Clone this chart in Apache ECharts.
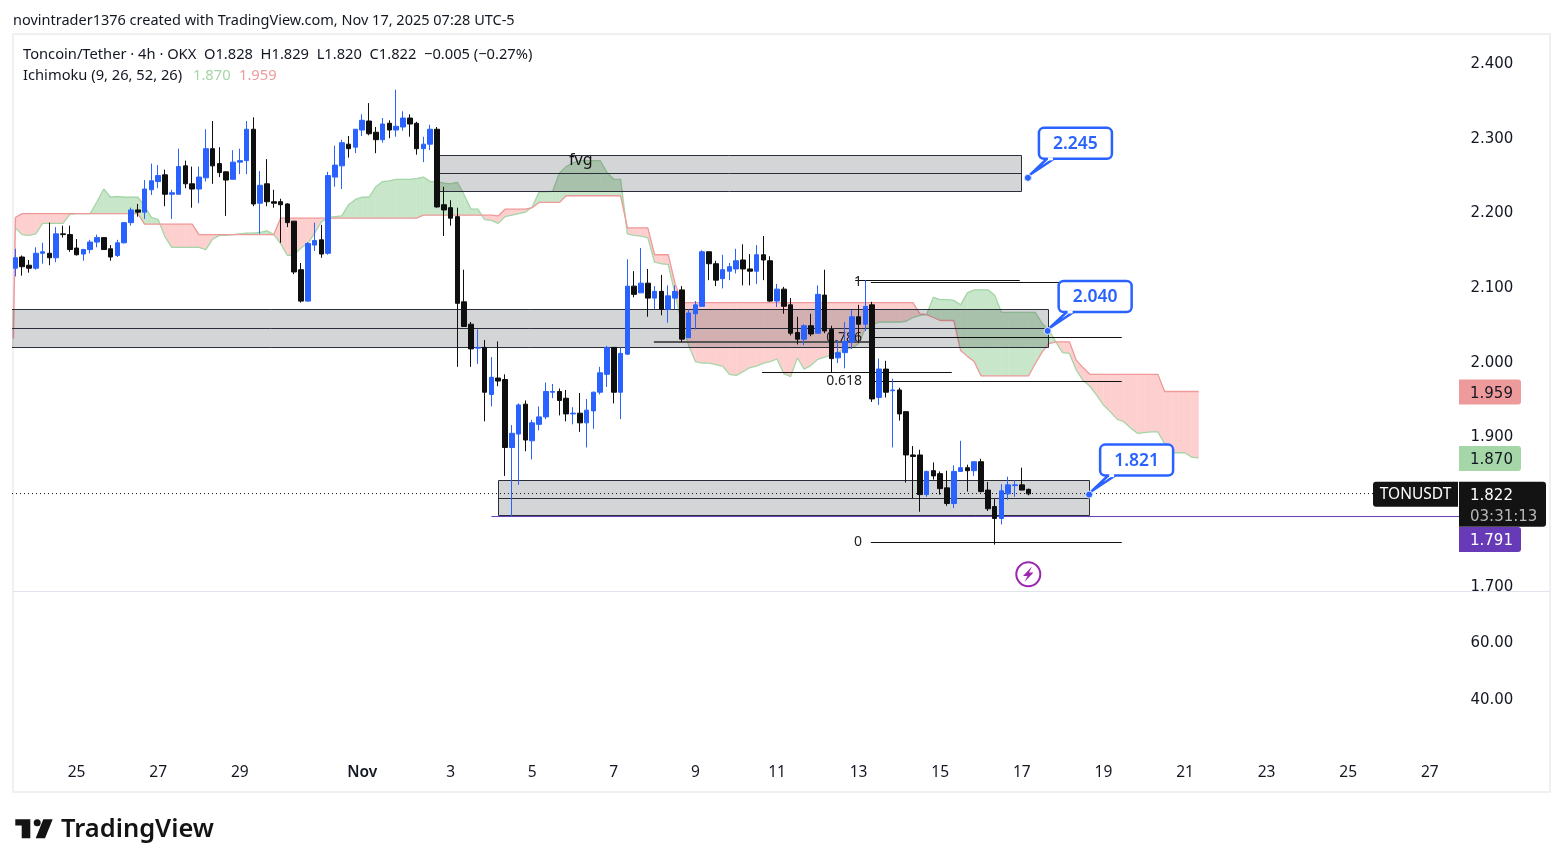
<!DOCTYPE html>
<html>
<head>
<meta charset="utf-8">
<title>TONUSDT 4h</title>
<style>
html, body { margin: 0; padding: 0; background: #fff; }
#main { width: 1563px; height: 867px; }
</style>
<script src="https://cdn.jsdelivr.net/npm/echarts@6/dist/echarts.min.js"></script>
</head>
<body>
<div id="main"></div>
<script>
// bars on the time axis that carry a date label
var barCount = 213;
var dateLabelBars = [9, 21, 33, 51, 64, 76, 88, 100, 112, 124, 136, 148, 160, 172, 184, 196, 208];
var dateLabels = ['25', '27', '29', 'Nov', '3', '5', '7', '9', '11', '13', '15', '17', '19', '21', '23', '25', '27'];
var priceTicks = [1.7, 1.9, 2.0, 2.1, 2.2, 2.3, 2.4];

// open, close, low, high
var candles = [
    [2.124,2.138,2.113,2.150],[2.139,2.126,2.114,2.141],[2.128,2.124,2.118,2.135],[2.124,2.144,2.122,2.152],[2.144,2.146,2.130,2.158],
    [2.144,2.138,2.128,2.185],[2.138,2.170,2.132,2.179],[2.170,2.169,2.165,2.181],[2.169,2.149,2.146,2.181],[2.151,2.142,2.141,2.163],
    [2.143,2.149,2.134,2.150],[2.149,2.159,2.144,2.162],[2.159,2.165,2.152,2.169],[2.165,2.149,2.149,2.165],[2.150,2.139,2.134,2.155],
    [2.141,2.158,2.139,2.162],[2.158,2.185,2.157,2.186],[2.185,2.202,2.181,2.205],[2.202,2.199,2.193,2.210],[2.199,2.230,2.190,2.242],
    [2.229,2.241,2.222,2.264],[2.240,2.248,2.231,2.262],[2.249,2.223,2.207,2.256],[2.223,2.225,2.190,2.229],[2.223,2.260,2.223,2.284],
    [2.261,2.237,2.231,2.268],[2.237,2.230,2.205,2.260],[2.230,2.246,2.211,2.260],[2.245,2.284,2.240,2.310],[2.284,2.261,2.237,2.321],
    [2.264,2.252,2.246,2.286],[2.253,2.242,2.194,2.254],[2.243,2.266,2.243,2.282],[2.266,2.268,2.250,2.284],[2.268,2.310,2.250,2.321],
    [2.310,2.210,2.207,2.326],[2.211,2.235,2.170,2.254],[2.237,2.213,2.207,2.270],[2.213,2.211,2.205,2.229],[2.213,2.209,2.158,2.217],
    [2.210,2.185,2.179,2.211],[2.187,2.119,2.116,2.187],[2.122,2.080,2.078,2.131],[2.080,2.157,2.079,2.159],[2.155,2.161,2.147,2.185],
    [2.162,2.143,2.138,2.182],[2.144,2.248,2.142,2.253],[2.246,2.262,2.233,2.288],[2.261,2.292,2.230,2.296],[2.290,2.284,2.272,2.301],
    [2.286,2.310,2.278,2.310],[2.309,2.322,2.301,2.330],[2.321,2.304,2.302,2.345],[2.306,2.296,2.278,2.313],[2.296,2.317,2.292,2.325],
    [2.318,2.309,2.298,2.322],[2.309,2.314,2.300,2.363],[2.313,2.325,2.308,2.334],[2.325,2.317,2.300,2.330],[2.318,2.284,2.276,2.320],
    [2.284,2.290,2.266,2.300],[2.290,2.310,2.282,2.316],[2.310,2.206,2.205,2.313],[2.209,2.202,2.167,2.233],[2.205,2.191,2.181,2.215],
    [2.193,2.077,1.992,2.205],[2.079,2.046,2.046,2.122],[2.049,2.016,1.992,2.052],[2.017,2.018,1.996,2.042],[2.018,1.958,1.919,2.028],
    [1.955,1.978,1.939,2.005],[1.977,1.973,1.966,2.026],[1.975,1.884,1.846,1.982],[1.884,1.903,1.792,1.914],[1.902,1.941,1.834,1.943],
    [1.942,1.894,1.879,1.947],[1.893,1.917,1.868,1.921],[1.915,1.925,1.907,1.939],[1.925,1.959,1.922,1.971],[1.958,1.959,1.950,1.969],
    [1.959,1.947,1.927,1.963],[1.950,1.929,1.919,1.961],[1.929,1.930,1.915,1.938],[1.930,1.917,1.905,1.957],[1.917,1.934,1.884,1.949],
    [1.933,1.958,1.909,1.959],[1.958,1.984,1.955,1.992],[1.982,2.018,1.965,2.020],[2.018,1.958,1.943,2.018],[1.958,2.010,1.922,2.018],
    [2.009,2.100,2.008,2.136],[2.100,2.089,2.085,2.120],[2.091,2.104,2.091,2.151],[2.104,2.084,2.059,2.123],[2.084,2.093,2.069,2.100],
    [2.093,2.069,2.061,2.115],[2.069,2.087,2.051,2.101],[2.084,2.093,2.069,2.101],[2.095,2.029,2.025,2.100],[2.031,2.064,2.031,2.069],
    [2.063,2.075,2.042,2.080],[2.073,2.146,2.073,2.148],[2.146,2.130,2.108,2.146],[2.130,2.108,2.100,2.134],[2.110,2.122,2.097,2.142],
    [2.120,2.126,2.108,2.131],[2.123,2.134,2.117,2.150],[2.135,2.123,2.101,2.156],[2.123,2.120,2.101,2.143],[2.120,2.142,2.103,2.155],
    [2.142,2.135,2.108,2.167],[2.134,2.080,2.079,2.140],[2.080,2.096,2.072,2.103],[2.096,2.073,2.063,2.099],[2.075,2.037,2.034,2.084],
    [2.038,2.029,2.022,2.059],[2.029,2.047,2.021,2.049],[2.047,2.036,2.033,2.063],[2.037,2.089,2.037,2.101],[2.088,2.040,2.037,2.122],
    [2.042,2.003,1.985,2.047],[2.004,2.011,1.997,2.028],[2.011,2.026,1.990,2.052],[2.025,2.059,2.016,2.068],[2.059,2.049,2.024,2.075],
    [2.049,2.073,2.040,2.108],[2.075,1.949,1.945,2.079],[1.951,1.989,1.941,2.003],[1.989,1.958,1.951,2.000],[1.960,1.961,1.884,1.976],
    [1.961,1.929,1.920,1.964],[1.932,1.874,1.837,1.932],[1.874,1.872,1.816,1.886],[1.874,1.821,1.798,1.881],[1.821,1.852,1.818,1.853],
    [1.853,1.846,1.841,1.864],[1.849,1.829,1.821,1.852],[1.830,1.809,1.806,1.853],[1.809,1.852,1.803,1.860],[1.852,1.857,1.852,1.893],
    [1.857,1.853,1.825,1.861],[1.853,1.865,1.846,1.865],[1.865,1.825,1.824,1.869],[1.827,1.802,1.799,1.838],[1.805,1.789,1.754,1.815],
    [1.789,1.826,1.781,1.835],[1.822,1.834,1.814,1.845],[1.833,1.834,1.818,1.840],[1.834,1.827,1.827,1.857],[1.828,1.822,1.820,1.829]
];

// ichimoku leading spans, one value per bar
var spanA = [
    2.178,2.169,2.168,2.170,2.184,2.184,2.184,2.184,2.196,2.197,
    2.197,2.197,2.213,2.230,2.219,2.220,2.219,2.219,2.219,2.207,
    2.192,2.189,2.166,2.152,2.152,2.152,2.152,2.152,2.149,2.163,
    2.168,2.168,2.169,2.170,2.171,2.171,2.172,2.174,2.169,2.157,
    2.141,2.142,2.151,2.157,2.171,2.186,2.192,2.193,2.194,2.209,
    2.216,2.219,2.219,2.233,2.240,2.241,2.243,2.243,2.243,2.244,
    2.246,2.240,2.240,2.238,2.237,2.239,2.222,2.203,2.203,2.189,
    2.188,2.184,2.193,2.195,2.197,2.199,2.206,2.226,2.226,2.227,
    2.251,2.260,2.265,2.268,2.268,2.268,2.268,2.252,2.243,2.243,
    2.170,2.168,2.167,2.165,2.132,2.130,2.129,2.090,2.050,2.021,
    1.999,1.997,1.997,1.995,1.993,1.982,1.9805,1.9855,1.991,1.993,
    1.997,1.999,2.0025,1.983,1.979,2.004,1.989,1.994,2.002,2.005,
    2.008,2.012,2.015,2.017,2.023,2.0435,2.048,2.052,2.052,2.052,
    2.052,2.053,2.058,2.061,2.062,2.085,2.082,2.082,2.081,2.075,
    2.091,2.095,2.095,2.095,2.088,2.065,2.065,2.065,2.065,2.065,
    2.065,2.050,2.041,2.0255,2.011,2.010,1.988,1.974,1.966,1.954,
    1.941,1.932,1.922,1.9185,1.910,1.903,1.904,1.905,1.905,1.8895,
    1.877,1.877,1.877,1.871,1.870
];
var spanB = [
    2.192,2.197,2.197,2.197,2.197,2.197,2.197,2.197,2.197,2.197,
    2.197,2.197,2.197,2.197,2.197,2.197,2.197,2.197,2.197,2.183,
    2.183,2.183,2.183,2.183,2.183,2.183,2.183,2.169,2.169,2.169,
    2.169,2.169,2.169,2.169,2.169,2.169,2.169,2.169,2.169,2.191,
    2.191,2.191,2.191,2.191,2.191,2.191,2.191,2.191,2.191,2.191,
    2.191,2.191,2.191,2.191,2.191,2.191,2.191,2.191,2.191,2.191,
    2.195,2.195,2.195,2.195,2.195,2.195,2.195,2.195,2.195,2.195,
    2.195,2.194,2.203,2.203,2.203,2.203,2.205,2.212,2.212,2.212,
    2.212,2.221,2.221,2.221,2.221,2.221,2.221,2.221,2.221,2.221,
    2.178,2.178,2.178,2.178,2.142,2.142,2.142,2.104,2.078,2.078,
    2.078,2.078,2.078,2.078,2.078,2.078,2.078,2.078,2.078,2.078,
    2.078,2.078,2.078,2.078,2.078,2.078,2.078,2.078,2.078,2.078,
    2.078,2.078,2.078,2.078,2.078,2.078,2.078,2.078,2.078,2.078,
    2.078,2.078,2.078,2.063,2.062,2.058,2.054,2.054,2.054,2.014,
    2.006,1.999,1.980,1.980,1.980,1.980,1.980,1.980,1.980,1.980,
    1.9965,2.012,2.023,2.0255,2.0255,2.0255,2.001,1.991,1.982,1.982,
    1.982,1.982,1.982,1.982,1.982,1.982,1.982,1.982,1.982,1.959,
    1.959,1.959,1.959,1.959,1.959
];
var cloudEdge = [[-0.3, 2.03], [0, 2.192]];

// drawings in bar / price units: left, right, top, middle, bottom
var boxes = [
    [62.1, 147.9, 2.2755, 2.2514, 2.2273],
    [-1, 151.9, 2.0689, 2.0437, 2.0181],
    [71, 157.9, 1.840, 1.816, 1.7926]
];
// left, right, price
var fibLines = [
    [125.8, 162.7, 2.1051],
    [123.5, 147.7, 2.1072],
    [125.8, 162.7, 2.0315],
    [125.8, 162.7, 1.9726],
    [109.8, 137.7, 1.9846],
    [125.8, 162.7, 1.7568]
];
var guideLine = [[93.9, 2.0252], [125.8, 2.0252]];
var fibBars = [124.5, 124.5, 124.5, 124.5];
var fibPrices = [2.106, 2.030, 1.973, 1.757];
var fibTexts = ['1', '0.786', '0.618', '0'];

var calloutBars = [148.9, 151.8, 157.9];
var calloutPrices = [2.245, 2.040, 1.821];
var calloutTexts = ['2.245', '2.040', '1.821'];

var lastPrice = 1.822;
var purplePrice = 1.7916;
var purpleLine = [[70, purplePrice], [212.5, purplePrice]];
var lastLine = [[-0.5, 1.8224], [200.5, 1.8224]];

var tagPrices = [1.959, 1.870, 1.791];
var tagTexts = ['1.959', '1.870', '1.791'];
var tagFills = ['#ef9a9a', '#a5d6a7', '#673ab7'];
var tagInks = ['#131722', '#131722', '#ffffff'];
var tagShifts = [0, 0, 22];

var FONT = '"Noto Sans", sans-serif';
var TICK_FONT = '"DejaVu Sans", sans-serif';
var BLUE = '#2962ff';
var INK = '#131722';

var categories = [];
for (var i = 0; i < barCount; i++) {
    categories.push(String(i));
}
var dateMap = {};
dateLabelBars.forEach(function (bar, idx) {
    dateMap[bar] = dateLabels[idx];
});

function pairs(values) {
    return values.map(function (v, idx) {
        return [idx, v];
    });
}

// crisp 1px strokes
function snap(v) {
    return Math.floor(v) + 0.5;
}

function renderCloud(params, api) {
    var n = params.dataIndex;
    if (n >= spanA.length - 1) {
        return null;
    }
    var a0 = spanA[n], a1 = spanA[n + 1], b0 = spanB[n], b1 = spanB[n + 1];
    var green = '#c8e6c9', pink = '#fdd0cf';
    function poly(x0, ya0, yb0, x1, ya1, yb1, fill) {
        var pts = [api.coord([x0, ya0]), api.coord([x1, ya1]), api.coord([x1, yb1]), api.coord([x0, yb0])];
        return {
            type: 'polygon',
            shape: { points: pts },
            style: { fill: fill, stroke: fill, lineWidth: 0.5 }
        };
    }
    var d0 = a0 - b0, d1 = a1 - b1;
    if (d0 * d1 >= 0) {
        return poly(n, a0, b0, n + 1, a1, b1, (d0 + d1) >= 0 ? green : pink);
    }
    // the spans cross inside this bar
    var t = d0 / (d0 - d1);
    var xc = n + t, yc = a0 + (a1 - a0) * t;
    return {
        type: 'group',
        children: [
            poly(n, a0, b0, xc, yc, yc, d0 > 0 ? green : pink),
            poly(xc, yc, yc, n + 1, a1, b1, d1 > 0 ? green : pink)
        ]
    };
}

function renderBox(params, api) {
    var b = boxes[params.dataIndex];
    var tl = api.coord([b[0], b[2]]);
    var br = api.coord([b[1], b[4]]);
    var mid = api.coord([b[0], b[3]]);
    var x0 = snap(tl[0]), y0 = snap(tl[1]), x1 = snap(br[0]), y1 = snap(br[1]), ym = snap(mid[1]);
    return {
        type: 'group',
        children: [
            {
                type: 'rect',
                shape: { x: x0, y: y0, width: x1 - x0, height: y1 - y0 },
                style: { fill: 'rgba(42,46,57,0.2)', stroke: '#2a2e39', lineWidth: 1 }
            },
            {
                type: 'line',
                shape: { x1: x0, y1: ym, x2: x1, y2: ym },
                style: { stroke: '#2a2e39', lineWidth: 1 }
            }
        ]
    };
}

function renderFib(params, api) {
    var f = fibLines[params.dataIndex];
    var p0 = api.coord([f[0], f[2]]);
    var p1 = api.coord([f[1], f[2]]);
    return {
        type: 'line',
        shape: { x1: p0[0], y1: snap(p0[1]), x2: p1[0], y2: snap(p1[1]) },
        style: { stroke: '#111111', lineWidth: 1 }
    };
}

function renderFibText(params, api) {
    var n = params.dataIndex;
    var p = api.coord([fibBars[n], fibPrices[n]]);
    return {
        type: 'text',
        style: { text: fibTexts[n], x: p[0], y: p[1], align: 'right', verticalAlign: 'middle', fill: '#222222', font: '14px ' + FONT }
    };
}

function renderCallout(params, api) {
    var n = params.dataIndex;
    var p = api.coord([calloutBars[n], calloutPrices[n]]);
    var left = p[0] + 11, top = p[1] - 50;
    var w = 73, h = 31;
    return {
        type: 'group',
        children: [
            {
                type: 'polygon',
                shape: { points: [[p[0] + 2, p[1] - 3], [left + 8, top + h], [left + 15, top + h]] },
                style: { fill: '#fff', stroke: BLUE, lineWidth: 2.5 }
            },
            {
                type: 'rect',
                shape: { x: left, y: top, width: w, height: h, r: 5 },
                style: { fill: '#fff', stroke: BLUE, lineWidth: 2.5 }
            },
            {
                type: 'line',
                shape: { x1: left + 9, y1: top + h, x2: left + 14, y2: top + h },
                style: { stroke: '#fff', lineWidth: 3 }
            },
            {
                type: 'circle',
                shape: { cx: p[0], cy: p[1], r: 3.5 },
                style: { fill: BLUE, stroke: '#dfe8ff', lineWidth: 1 }
            },
            {
                type: 'text',
                style: { text: calloutTexts[n], x: left + w / 2, y: top + h / 2 + 0.5, align: 'center', verticalAlign: 'middle', fill: BLUE, font: '600 17.5px ' + FONT }
            }
        ]
    };
}

function renderTag(params, api) {
    var n = params.dataIndex;
    var p = api.coord([0, tagPrices[n]]);
    var x = 1459, y = p[1] + tagShifts[n] - 12;
    return {
        type: 'group',
        children: [
            {
                type: 'rect',
                shape: { x: x, y: y, width: 62, height: 25, r: [0, 3, 3, 0] },
                style: { fill: tagFills[n] }
            },
            {
                type: 'text',
                style: { text: tagTexts[n], x: x + 11, y: y + 14.5, verticalAlign: 'middle', fill: tagInks[n], font: '15px ' + TICK_FONT }
            }
        ]
    };
}

function renderLastTag(params, api) {
    var p = api.coord([0, lastPrice]);
    var x = 1459, y = p[1] - 12;
    return {
        type: 'group',
        children: [
            {
                type: 'rect',
                shape: { x: 1373, y: y, width: 85, height: 25, r: [3, 0, 0, 3] },
                style: { fill: '#131313' }
            },
            {
                type: 'text',
                style: { text: 'TONUSDT', x: 1415.5, y: y + 13, align: 'center', verticalAlign: 'middle', fill: '#ffffff', font: '15.5px ' + FONT }
            },
            {
                type: 'rect',
                shape: { x: x, y: y, width: 87, height: 45, r: [0, 3, 3, 0] },
                style: { fill: '#131313' }
            },
            {
                type: 'text',
                style: { text: '1.822', x: x + 11, y: y + 14.5, verticalAlign: 'middle', fill: '#ffffff', font: '15px ' + TICK_FONT }
            },
            {
                type: 'text',
                style: { text: '03:31:13', x: x + 11, y: y + 35, verticalAlign: 'middle', fill: '#b8b8b8', font: '15px ' + TICK_FONT }
            }
        ]
    };
}

function textNode(text, x, y, fill, font) {
    return {
        type: 'text',
        silent: true,
        z: 5,
        x: x,
        y: y,
        style: { text: text, fill: fill, font: font, verticalAlign: 'middle' }
    };
}

var tickRich = { t: { padding: [4, 0, 0, 0], color: INK, fontFamily: TICK_FONT, fontSize: 15 } };

var option = {
    animation: false,
    backgroundColor: '#ffffff',
    grid: [
        { left: 12, width: 1448.4, top: 34, height: 558 },
        { left: 12, width: 1448.4, top: 584, height: 171 }
    ],
    xAxis: [
        {
            type: 'category',
            gridIndex: 0,
            data: categories,
            axisLine: { show: false },
            axisTick: { show: false },
            axisLabel: { show: false },
            splitLine: { show: false }
        },
        {
            type: 'value',
            gridIndex: 0,
            min: -0.5,
            max: 212.5,
            show: false
        },
        {
            type: 'category',
            gridIndex: 1,
            data: categories,
            axisLine: { show: false },
            axisTick: { show: false },
            splitLine: { show: false },
            axisLabel: {
                interval: 0,
                margin: 10,
                color: INK,
                fontFamily: FONT,
                fontSize: 15.5,
                formatter: function (value, idx) {
                    var t = dateMap[idx];
                    if (t === undefined) {
                        return '';
                    }
                    return t === 'Nov' ? '{b|Nov}' : t;
                },
                rich: { b: { fontWeight: 600, fontFamily: FONT, fontSize: 15.5, color: INK } }
            }
        }
    ],
    yAxis: [
        {
            type: 'value',
            gridIndex: 0,
            position: 'right',
            min: 1.6906,
            max: 2.4375,
            axisLine: { show: false },
            axisTick: { show: false },
            splitLine: { show: false },
            axisLabel: {
                customValues: priceTicks,
                margin: 10,
                rich: tickRich,
                formatter: function (v) {
                    return '{t|' + v.toFixed(3) + '}';
                }
            }
        },
        {
            type: 'value',
            gridIndex: 1,
            position: 'right',
            min: 20,
            max: 80,
            interval: 20,
            axisLine: { show: false },
            axisTick: { show: false },
            splitLine: { show: false },
            axisLabel: {
                showMinLabel: false,
                showMaxLabel: false,
                margin: 10,
                rich: tickRich,
                formatter: function (v) {
                    return '{t|' + v.toFixed(2) + '}';
                }
            }
        }
    ],
    series: [
        {
            name: 'cloud',
            type: 'custom',
            xAxisIndex: 1,
            yAxisIndex: 0,
            z: 1,
            silent: true,
            renderItem: renderCloud,
            data: pairs(spanA),
            encode: { x: 0, y: 1 }
        },
        {
            name: 'edge',
            type: 'line',
            xAxisIndex: 1,
            yAxisIndex: 0,
            z: 1,
            showSymbol: false,
            silent: true,
            lineStyle: { color: '#ef9a9a', width: 1.5 },
            data: cloudEdge
        },
        {
            name: 'Span A',
            type: 'line',
            xAxisIndex: 1,
            yAxisIndex: 0,
            z: 1,
            showSymbol: false,
            silent: true,
            lineStyle: { color: '#a5d6a7', width: 1.3 },
            data: pairs(spanA)
        },
        {
            name: 'Span B',
            type: 'line',
            xAxisIndex: 1,
            yAxisIndex: 0,
            z: 1,
            showSymbol: false,
            silent: true,
            lineStyle: { color: '#ef9a9a', width: 1.3 },
            data: pairs(spanB)
        },
        {
            name: 'boxes',
            type: 'custom',
            xAxisIndex: 1,
            yAxisIndex: 0,
            z: 2,
            silent: true,
            clip: true,
            renderItem: renderBox,
            data: boxes.map(function (b) { return [b[0], b[2]]; }),
            encode: { x: 0, y: 1 }
        },
        {
            name: 'guide',
            type: 'line',
            xAxisIndex: 1,
            yAxisIndex: 0,
            z: 2,
            showSymbol: false,
            silent: true,
            lineStyle: { color: '#555555', width: 2 },
            data: guideLine
        },
        {
            name: 'fib',
            type: 'custom',
            xAxisIndex: 1,
            yAxisIndex: 0,
            z: 2,
            silent: true,
            renderItem: renderFib,
            data: fibLines.map(function (f) { return [f[0], f[2]]; }),
            encode: { x: 0, y: 1 }
        },
        {
            name: 'fibText',
            type: 'custom',
            xAxisIndex: 1,
            yAxisIndex: 0,
            z: 2,
            silent: true,
            renderItem: renderFibText,
            data: fibBars.map(function (b, idx) { return [b, fibPrices[idx]]; }),
            encode: { x: 0, y: 1 }
        },
        {
            name: 'last',
            type: 'line',
            xAxisIndex: 1,
            yAxisIndex: 0,
            z: 2,
            showSymbol: false,
            silent: true,
            lineStyle: { color: '#131313', width: 1, type: [1, 3] },
            data: lastLine
        },
        {
            name: 'purple',
            type: 'line',
            xAxisIndex: 1,
            yAxisIndex: 0,
            z: 2,
            showSymbol: false,
            silent: true,
            lineStyle: { color: '#673ab7', width: 1 },
            data: purpleLine
        },
        {
            name: 'TONUSDT',
            type: 'candlestick',
            xAxisIndex: 0,
            yAxisIndex: 0,
            z: 3,
            barWidth: 5,
            silent: true,
            itemStyle: {
                color: BLUE,
                color0: '#0f0f0f',
                borderColor: BLUE,
                borderColor0: '#0f0f0f',
                borderWidth: 1
            },
            data: candles
        },
        {
            name: 'callouts',
            type: 'custom',
            xAxisIndex: 1,
            yAxisIndex: 0,
            z: 5,
            silent: true,
            clip: false,
            renderItem: renderCallout,
            data: calloutBars.map(function (b, idx) { return [b, calloutPrices[idx]]; }),
            encode: { x: 0, y: 1 }
        },
        {
            name: 'tags',
            type: 'custom',
            xAxisIndex: 1,
            yAxisIndex: 0,
            z: 5,
            silent: true,
            clip: false,
            renderItem: renderTag,
            data: tagPrices.map(function (p) { return [0, p]; }),
            encode: { x: 0, y: 1 }
        },
        {
            name: 'lastTag',
            type: 'custom',
            xAxisIndex: 1,
            yAxisIndex: 0,
            z: 6,
            silent: true,
            clip: false,
            renderItem: renderLastTag,
            data: [[0, lastPrice]],
            encode: { x: 0, y: 1 }
        }
    ],
    graphic: {
        elements: [
            {
                type: 'rect',
                z: 0,
                silent: true,
                shape: { x: 13, y: 34, width: 1537, height: 758 },
                style: { fill: 'none', stroke: '#f0f0f2', lineWidth: 2 }
            },
            {
                type: 'line',
                z: 0,
                silent: true,
                shape: { x1: 13, y1: 591.5, x2: 1550, y2: 591.5 },
                style: { stroke: '#e0e3eb', lineWidth: 1 }
            },
            textNode('novintrader1376 created with TradingView.com, Nov 17, 2025 07:28 UTC-5', 13, 20.5, INK, '14.5px ' + FONT),
            textNode('Toncoin/Tether \u00b7 4h \u00b7 OKX  O1.828  H1.829  L1.820  C1.822  \u22120.005 (\u22120.27%)', 23, 54.5, INK, '14.7px ' + FONT),
            textNode('Ichimoku (9, 26, 52, 26)', 23, 75.5, INK, '14.7px ' + FONT),
            textNode('1.870', 193, 75.5, '#a5d6a7', '14.7px ' + FONT),
            textNode('1.959', 239, 75.5, '#ef9a9a', '14.7px ' + FONT),
            textNode('fvg', 569, 160, '#111111', '16px ' + FONT),
            // session break icon
            {
                type: 'circle',
                silent: true,
                z: 5,
                shape: { cx: 1028.3, cy: 574.3, r: 12 },
                style: { fill: 'none', stroke: '#9c27b0', lineWidth: 2 }
            },
            {
                type: 'polygon',
                silent: true,
                z: 5,
                shape: { points: [[1032, 566.5], [1023, 576], [1027.5, 576], [1024.5, 582], [1033.5, 572.5], [1029, 572.5]] },
                style: { fill: '#9c27b0' }
            },
            // TradingView logo
            {
                type: 'polygon',
                silent: true,
                shape: { points: [[15.3, 819.3], [30.3, 819.3], [30.3, 838.3], [21.7, 838.3], [21.7, 825.5], [15.3, 825.5]] },
                style: { fill: '#131313' }
            },
            {
                type: 'circle',
                silent: true,
                shape: { cx: 37.2, cy: 822.8, r: 3.5 },
                style: { fill: '#131313' }
            },
            {
                type: 'polygon',
                silent: true,
                shape: { points: [[43.3, 819.3], [52.7, 819.3], [45, 838.3], [35.7, 838.3]] },
                style: { fill: '#131313' }
            },
            textNode('TradingView', 61, 830, '#131313', '600 25.5px ' + FONT)
        ]
    }
};

var myChart = echarts.init(document.getElementById('main'));
myChart.setOption(option);
</script>
</body>
</html>
